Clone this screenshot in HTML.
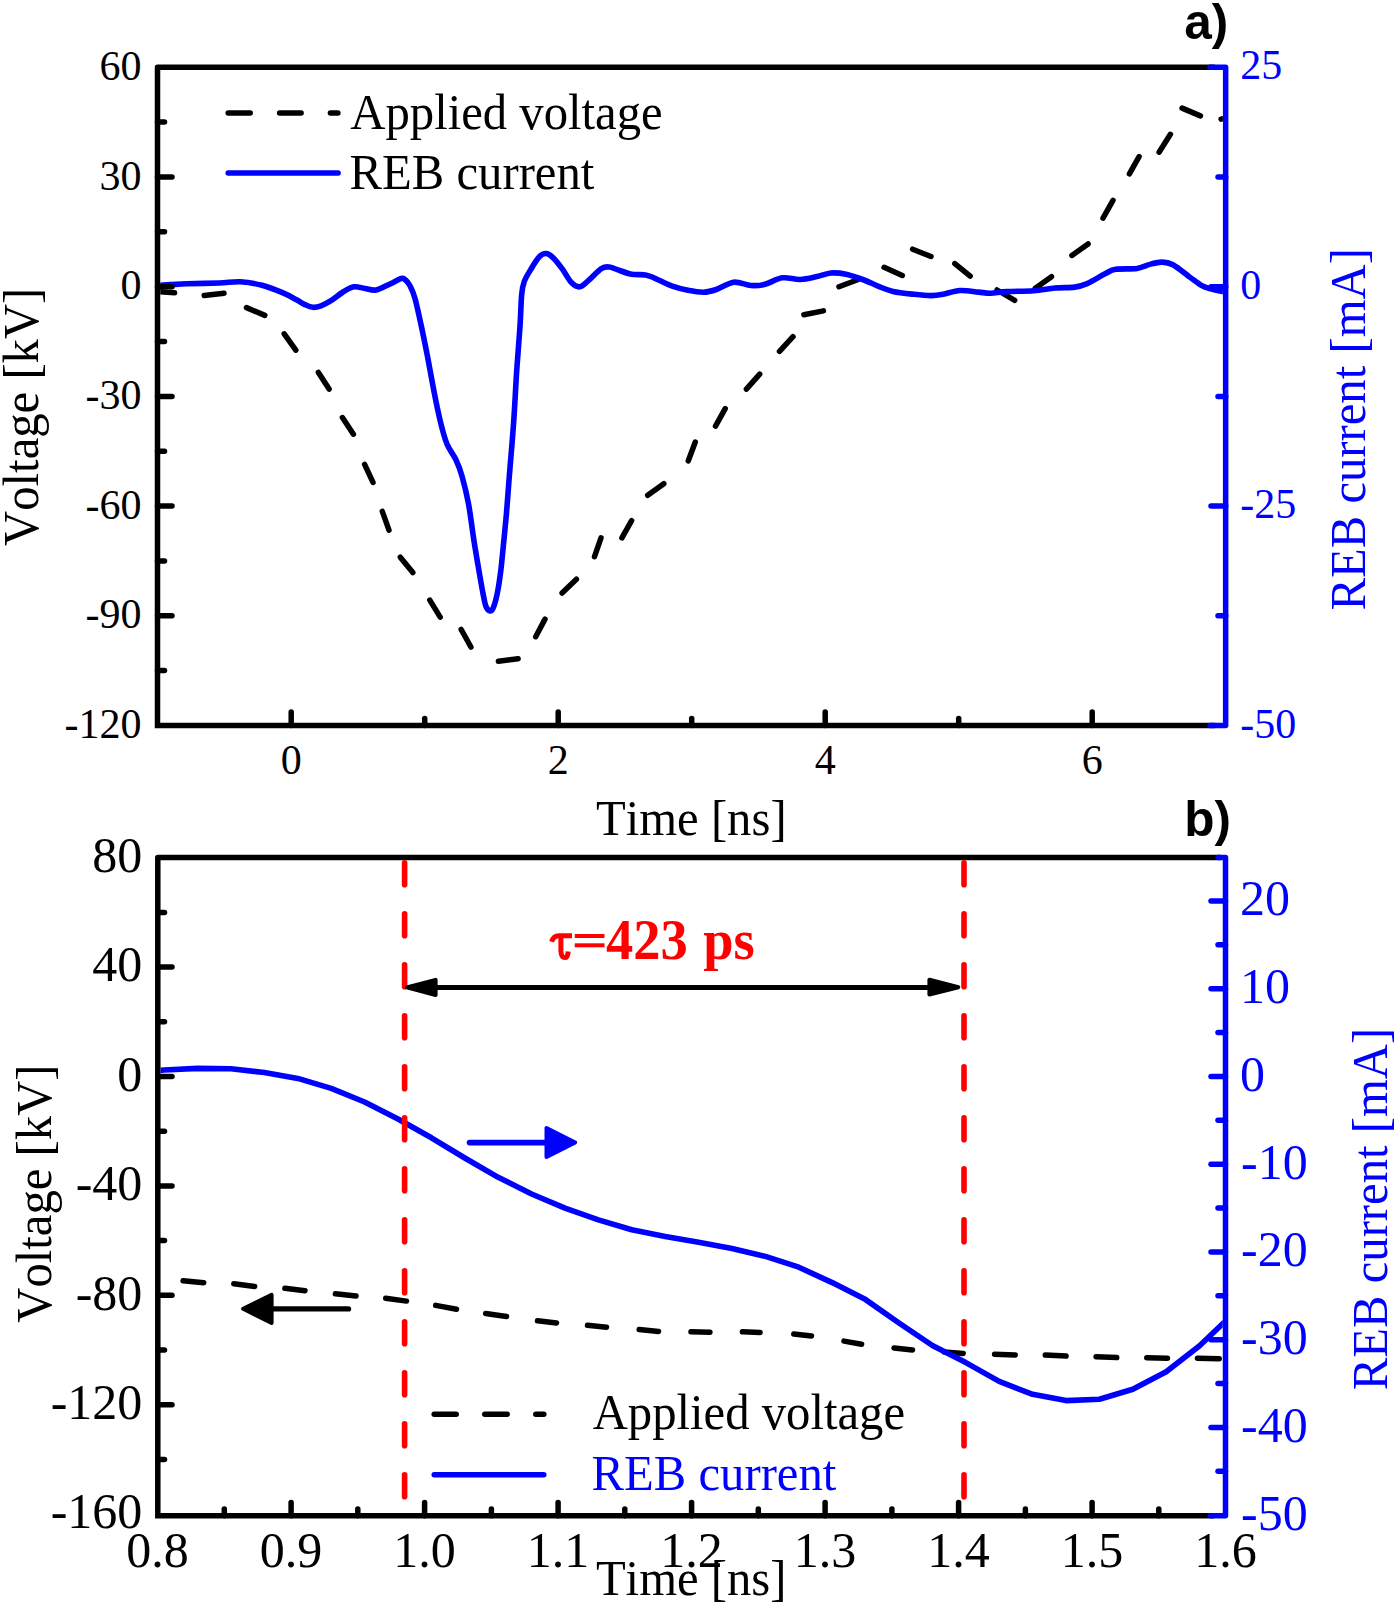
<!DOCTYPE html>
<html><head><meta charset="utf-8"><title>Figure</title>
<style>html,body{margin:0;padding:0;background:#fff;}svg{display:block;}text{font-kerning:none;font-feature-settings:"kern" 0;}</style>
</head><body>
<svg width="1400" height="1609" viewBox="0 0 1400 1609">
<rect width="1400" height="1609" fill="#fff"/>
<clipPath id="ca"><rect x="160.25" y="70.1" width="1062.65" height="652.75"/></clipPath><g clip-path="url(#ca)">
<line x1="160.1" y1="291.7" x2="174.6" y2="292.8" stroke="#000000" stroke-width="5.5" stroke-linecap="round"/>
<line x1="204.2" y1="295.6" x2="224" y2="293.2" stroke="#000000" stroke-width="5.5" stroke-linecap="round"/>
<line x1="246.5" y1="307.6" x2="264.8" y2="315.4" stroke="#000000" stroke-width="5.5" stroke-linecap="round"/>
<line x1="284.2" y1="333.8" x2="295.8" y2="350.2" stroke="#000000" stroke-width="5.5" stroke-linecap="round"/>
<line x1="318.4" y1="372.4" x2="329.1" y2="389.1" stroke="#000000" stroke-width="5.5" stroke-linecap="round"/>
<line x1="342.4" y1="417.6" x2="353.4" y2="434.2" stroke="#000000" stroke-width="5.5" stroke-linecap="round"/>
<line x1="364.6" y1="464.4" x2="373" y2="482.4" stroke="#000000" stroke-width="5.5" stroke-linecap="round"/>
<line x1="382.3" y1="511.4" x2="389" y2="530.1" stroke="#000000" stroke-width="5.5" stroke-linecap="round"/>
<line x1="400.3" y1="557.2" x2="412.8" y2="572.6" stroke="#000000" stroke-width="5.5" stroke-linecap="round"/>
<line x1="429.8" y1="600.1" x2="440.2" y2="617.1" stroke="#000000" stroke-width="5.5" stroke-linecap="round"/>
<line x1="461.2" y1="629.5" x2="470.9" y2="647" stroke="#000000" stroke-width="5.5" stroke-linecap="round"/>
<line x1="498.4" y1="661.3" x2="518.1" y2="658.7" stroke="#000000" stroke-width="5.5" stroke-linecap="round"/>
<line x1="535.7" y1="636.7" x2="545" y2="619.1" stroke="#000000" stroke-width="5.5" stroke-linecap="round"/>
<line x1="562.1" y1="593" x2="576.4" y2="579.2" stroke="#000000" stroke-width="5.5" stroke-linecap="round"/>
<line x1="594.5" y1="556.6" x2="601" y2="537.9" stroke="#000000" stroke-width="5.5" stroke-linecap="round"/>
<line x1="621.9" y1="537.9" x2="631.6" y2="520.6" stroke="#000000" stroke-width="5.5" stroke-linecap="round"/>
<line x1="647.7" y1="495.3" x2="663.8" y2="483.7" stroke="#000000" stroke-width="5.5" stroke-linecap="round"/>
<line x1="688.3" y1="460.8" x2="695.2" y2="442.2" stroke="#000000" stroke-width="5.5" stroke-linecap="round"/>
<line x1="715.5" y1="426.2" x2="725.2" y2="408.7" stroke="#000000" stroke-width="5.5" stroke-linecap="round"/>
<line x1="746.4" y1="389.1" x2="759.7" y2="374.1" stroke="#000000" stroke-width="5.5" stroke-linecap="round"/>
<line x1="779.5" y1="351.3" x2="793" y2="336.7" stroke="#000000" stroke-width="5.5" stroke-linecap="round"/>
<line x1="803.9" y1="314.8" x2="823.4" y2="310.9" stroke="#000000" stroke-width="5.5" stroke-linecap="round"/>
<line x1="839" y1="286.7" x2="857.6" y2="279.7" stroke="#000000" stroke-width="5.5" stroke-linecap="round"/>
<line x1="884.1" y1="267.3" x2="902.3" y2="275.5" stroke="#000000" stroke-width="5.5" stroke-linecap="round"/>
<line x1="912.6" y1="249.2" x2="931" y2="256.5" stroke="#000000" stroke-width="5.5" stroke-linecap="round"/>
<line x1="954.8" y1="263.6" x2="970.2" y2="276.1" stroke="#000000" stroke-width="5.5" stroke-linecap="round"/>
<line x1="997.1" y1="290" x2="1014.7" y2="300.3" stroke="#000000" stroke-width="5.5" stroke-linecap="round"/>
<line x1="1035.3" y1="288.3" x2="1051.5" y2="276.7" stroke="#000000" stroke-width="5.5" stroke-linecap="round"/>
<line x1="1071.9" y1="255.4" x2="1088.1" y2="243.9" stroke="#000000" stroke-width="5.5" stroke-linecap="round"/>
<line x1="1103" y1="218.1" x2="1113" y2="200.4" stroke="#000000" stroke-width="5.5" stroke-linecap="round"/>
<line x1="1129.4" y1="173.9" x2="1139.1" y2="156.6" stroke="#000000" stroke-width="5.5" stroke-linecap="round"/>
<line x1="1159.1" y1="152.2" x2="1170.4" y2="134.3" stroke="#000000" stroke-width="5.5" stroke-linecap="round"/>
<line x1="1182.1" y1="108.1" x2="1200.4" y2="115.9" stroke="#000000" stroke-width="5.5" stroke-linecap="round"/>
<line x1="1221.1" y1="119.1" x2="1221.9" y2="118.9" stroke="#000000" stroke-width="5.5" stroke-linecap="round"/>
<path d="M159,285.3 C160.8,285.2 165.3,284.9 170,284.6 C174.7,284.4 178.8,284.1 187,283.8 C195.2,283.5 210.1,283.3 219,283 C227.9,282.7 233.3,281.4 240.5,281.8 C247.7,282.2 254.8,283.4 262,285.3 C269.2,287.2 277.9,290.8 283.6,293.2 C289.3,295.6 292.4,297.6 296,299.5 C299.6,301.4 302.2,303.3 305,304.6 C307.8,305.9 310.3,307.1 313,307.3 C315.7,307.5 318,306.9 321,305.8 C324,304.7 327.3,303 331,300.7 C334.7,298.4 339.2,294.3 343,292 C346.8,289.7 350.3,287.4 354,286.8 C357.7,286.2 361.3,288 365,288.5 C368.7,289 371.8,290.8 376,290 C380.2,289.2 385.8,285.9 390,284 C394.2,282.1 398.5,279.2 401,278.5 C403.5,277.8 403.5,278.3 405,279.5 C406.5,280.7 408.3,282.5 410,285.7 C411.7,288.9 413.1,291.8 415,298.6 C416.9,305.4 419.2,316.4 421.4,326.4 C423.5,336.4 425.8,347.5 427.9,358.6 C430,369.7 432.2,382.2 434.3,392.9 C436.4,403.6 438.6,414.2 440.7,422.8 C442.8,431.4 444.6,438.2 447.1,444.3 C449.6,450.4 453.2,454 455.7,459.3 C458.2,464.6 460,468.9 462.1,476.4 C464.2,483.9 466.6,493.2 468.6,504.3 C470.6,515.4 472.6,532.2 474.3,542.9 C476,553.6 477.2,560.3 478.6,568.6 C480,576.9 481.7,586.7 482.9,592.9 C484.1,599.1 484.6,602.7 485.7,605.7 C486.8,608.7 488.1,610.2 489.3,610.7 C490.5,611.2 491.6,611.3 492.9,608.6 C494.2,605.9 495.8,600.5 497.1,594.3 C498.4,588.1 499.6,580 500.7,571.4 C501.8,562.8 502.7,552.4 503.6,542.9 C504.6,533.4 505.4,525.4 506.4,514.3 C507.3,503.2 508.1,491.6 509.3,476.4 C510.5,461.1 512.4,440.6 513.6,422.8 C514.9,405 515.7,385.4 516.8,369.3 C517.9,353.2 519.2,338.9 520,326.4 C520.8,313.9 521,301.8 521.7,294.3 C522.4,286.8 522.8,285.5 524.3,281.4 C525.8,277.3 528.2,273.7 530.7,269.6 C533.2,265.5 536.6,259.5 539.3,256.8 C542,254.1 544.3,253.2 546.8,253.6 C549.3,253.9 551.6,256.2 554.3,258.9 C557,261.6 559.9,265.7 562.8,269.6 C565.6,273.5 568.5,279.6 571.4,282.5 C574.3,285.4 577.1,287.2 580,286.8 C582.9,286.4 585,283.4 588.6,280.4 C592.2,277.4 597.9,270.8 601.4,268.6 C604.9,266.4 606.8,266.8 609.4,267 C612,267.2 613.6,268.5 617.3,269.7 C621,270.9 626.7,273.3 631.4,274.2 C636.1,275.1 641.7,274.2 645.6,274.9 C649.5,275.6 650.5,276.4 655,278.3 C659.5,280.2 666.8,284.2 672.3,286.2 C677.8,288.2 682.8,289.3 688,290.3 C693.2,291.3 699,292.3 703.7,292.2 C708.4,292.1 711.3,291.2 716.3,289.5 C721.3,287.8 727.9,282.9 733.6,282.2 C739.4,281.5 745.6,285.1 750.8,285.5 C756,285.9 759.8,285.6 765,284.3 C770.2,283 776.5,278.6 782.3,277.8 C788.1,277 794.2,279.7 800,279.5 C805.8,279.3 811.8,277.7 817,276.6 C822.2,275.5 826.2,273.4 831,273 C835.8,272.6 840.5,273.1 846,274.3 C851.5,275.5 858.6,278 864,280 C869.4,282 873.8,284.5 878.6,286.4 C883.4,288.3 887.1,290.1 893,291.4 C898.9,292.7 907.7,293.6 914,294.3 C920.3,295 926.2,295.6 931,295.6 C935.8,295.6 938.2,295.2 943,294.3 C947.8,293.4 954.1,290.9 960,290.5 C965.9,290.1 973.5,291.7 978.6,292.1 C983.7,292.6 986,293.3 990.7,293.2 C995.4,293.1 999.6,292 1006.8,291.6 C1013.9,291.2 1025.6,291.3 1033.6,290.7 C1041.6,290.1 1048.2,288.6 1055,288 C1061.8,287.4 1069.2,287.8 1074.6,287.1 C1079.9,286.4 1082,285.8 1087.1,283.6 C1092.2,281.4 1100.2,276.2 1105,273.8 C1109.8,271.4 1110.4,270.2 1115.7,269.3 C1121,268.4 1131.1,269.3 1137.1,268.4 C1143,267.5 1147.2,264.9 1151.4,263.9 C1155.6,262.8 1158.5,262 1162.1,262.1 C1165.7,262.2 1168.4,262.4 1172.9,264.8 C1177.4,267.2 1184.2,273 1188.9,276.4 C1193.7,279.8 1197.8,283.3 1201.4,285.4 C1205,287.5 1206.8,287.9 1210.4,288.9 C1214,289.9 1220.9,291.2 1223,291.6" fill="none" stroke="#0000ff" stroke-width="5.6" stroke-linejoin="round" stroke-linecap="round"/>
</g>
<path d="M157.5,725.6 L157.5,67.35 L1212,67.35 M157.5,725.6 L1212,725.6" fill="none" stroke="#000" stroke-width="5.5" stroke-linejoin="round" stroke-linecap="square"/>
<line x1="157.5" y1="177" x2="172" y2="177" stroke="#000000" stroke-width="5.5" stroke-linecap="round"/>
<line x1="157.5" y1="286.7" x2="172" y2="286.7" stroke="#000000" stroke-width="5.5" stroke-linecap="round"/>
<line x1="157.5" y1="396.4" x2="172" y2="396.4" stroke="#000000" stroke-width="5.5" stroke-linecap="round"/>
<line x1="157.5" y1="506.1" x2="172" y2="506.1" stroke="#000000" stroke-width="5.5" stroke-linecap="round"/>
<line x1="157.5" y1="615.8" x2="172" y2="615.8" stroke="#000000" stroke-width="5.5" stroke-linecap="round"/>
<line x1="157.5" y1="122.1" x2="164.5" y2="122.1" stroke="#000000" stroke-width="5.5" stroke-linecap="round"/>
<line x1="157.5" y1="231.8" x2="164.5" y2="231.8" stroke="#000000" stroke-width="5.5" stroke-linecap="round"/>
<line x1="157.5" y1="341.6" x2="164.5" y2="341.6" stroke="#000000" stroke-width="5.5" stroke-linecap="round"/>
<line x1="157.5" y1="451.2" x2="164.5" y2="451.2" stroke="#000000" stroke-width="5.5" stroke-linecap="round"/>
<line x1="157.5" y1="561" x2="164.5" y2="561" stroke="#000000" stroke-width="5.5" stroke-linecap="round"/>
<line x1="157.5" y1="670.6" x2="164.5" y2="670.6" stroke="#000000" stroke-width="5.5" stroke-linecap="round"/>
<line x1="291.2" y1="725.6" x2="291.2" y2="712" stroke="#000000" stroke-width="5.5" stroke-linecap="round"/>
<line x1="558.2" y1="725.6" x2="558.2" y2="712" stroke="#000000" stroke-width="5.5" stroke-linecap="round"/>
<line x1="825.2" y1="725.6" x2="825.2" y2="712" stroke="#000000" stroke-width="5.5" stroke-linecap="round"/>
<line x1="1092.2" y1="725.6" x2="1092.2" y2="712" stroke="#000000" stroke-width="5.5" stroke-linecap="round"/>
<line x1="424.7" y1="725.6" x2="424.7" y2="718.5" stroke="#000000" stroke-width="5.5" stroke-linecap="round"/>
<line x1="691.7" y1="725.6" x2="691.7" y2="718.5" stroke="#000000" stroke-width="5.5" stroke-linecap="round"/>
<line x1="958.7" y1="725.6" x2="958.7" y2="718.5" stroke="#000000" stroke-width="5.5" stroke-linecap="round"/>
<text x="141.6" y="79.8" font-family="&quot;Liberation Serif&quot;, serif" font-size="42" font-weight="normal" fill="#000000" text-anchor="end" >60</text>
<text x="141.6" y="189.5" font-family="&quot;Liberation Serif&quot;, serif" font-size="42" font-weight="normal" fill="#000000" text-anchor="end" >30</text>
<text x="141.6" y="299.2" font-family="&quot;Liberation Serif&quot;, serif" font-size="42" font-weight="normal" fill="#000000" text-anchor="end" >0</text>
<text x="141.6" y="408.9" font-family="&quot;Liberation Serif&quot;, serif" font-size="42" font-weight="normal" fill="#000000" text-anchor="end" >-30</text>
<text x="141.6" y="518.6" font-family="&quot;Liberation Serif&quot;, serif" font-size="42" font-weight="normal" fill="#000000" text-anchor="end" >-60</text>
<text x="141.6" y="628.3" font-family="&quot;Liberation Serif&quot;, serif" font-size="42" font-weight="normal" fill="#000000" text-anchor="end" >-90</text>
<text x="141.6" y="738" font-family="&quot;Liberation Serif&quot;, serif" font-size="42" font-weight="normal" fill="#000000" text-anchor="end" >-120</text>
<text x="291.2" y="774.2" font-family="&quot;Liberation Serif&quot;, serif" font-size="42" font-weight="normal" fill="#000000" text-anchor="middle" >0</text>
<text x="558.2" y="774.2" font-family="&quot;Liberation Serif&quot;, serif" font-size="42" font-weight="normal" fill="#000000" text-anchor="middle" >2</text>
<text x="825.2" y="774.2" font-family="&quot;Liberation Serif&quot;, serif" font-size="42" font-weight="normal" fill="#000000" text-anchor="middle" >4</text>
<text x="1092.2" y="774.2" font-family="&quot;Liberation Serif&quot;, serif" font-size="42" font-weight="normal" fill="#000000" text-anchor="middle" >6</text>
<text transform="translate(691.3,834.7) scale(1,1.035)" x="0" y="0" font-family="&quot;Liberation Serif&quot;, serif" font-size="48.7" fill="#000000" text-anchor="middle">Time [ns]</text>
<text transform="translate(38.4,416.8) rotate(-90) scale(1,1.035)" x="0" y="0" font-family="&quot;Liberation Serif&quot;, serif" font-size="48.7" fill="#000000" text-anchor="middle">Voltage [kV]</text>
<path d="M1210,67.35 L1225.65,67.35 L1225.65,725.6 L1210,725.6" fill="none" stroke="#0000ff" stroke-width="5.5" stroke-linejoin="round" stroke-linecap="round"/>
<line x1="1225.7" y1="286.7" x2="1211" y2="286.7" stroke="#0000ff" stroke-width="5.5" stroke-linecap="round"/>
<line x1="1225.7" y1="506.1" x2="1211" y2="506.1" stroke="#0000ff" stroke-width="5.5" stroke-linecap="round"/>
<line x1="1225.7" y1="177" x2="1218" y2="177" stroke="#0000ff" stroke-width="5.5" stroke-linecap="round"/>
<line x1="1225.7" y1="396.4" x2="1218" y2="396.4" stroke="#0000ff" stroke-width="5.5" stroke-linecap="round"/>
<line x1="1225.7" y1="615.8" x2="1218" y2="615.8" stroke="#0000ff" stroke-width="5.5" stroke-linecap="round"/>
<text x="1240.3" y="79.3" font-family="&quot;Liberation Serif&quot;, serif" font-size="42" font-weight="normal" fill="#0000ff" text-anchor="start" >25</text>
<text x="1240.3" y="298.7" font-family="&quot;Liberation Serif&quot;, serif" font-size="42" font-weight="normal" fill="#0000ff" text-anchor="start" >0</text>
<text x="1240.3" y="518.1" font-family="&quot;Liberation Serif&quot;, serif" font-size="42" font-weight="normal" fill="#0000ff" text-anchor="start" >-25</text>
<text x="1240.3" y="737.5" font-family="&quot;Liberation Serif&quot;, serif" font-size="42" font-weight="normal" fill="#0000ff" text-anchor="start" >-50</text>
<text transform="translate(1365.2,429.3) rotate(-90) scale(1,1.035)" x="0" y="0" font-family="&quot;Liberation Serif&quot;, serif" font-size="48.7" fill="#0000ff" text-anchor="middle">REB current [mA]</text>
<line x1="228.2" y1="113" x2="250.2" y2="113" stroke="#000000" stroke-width="5.5" stroke-linecap="round"/>
<line x1="279.6" y1="113" x2="301.1" y2="113" stroke="#000000" stroke-width="5.5" stroke-linecap="round"/>
<line x1="330.4" y1="113" x2="337.9" y2="113" stroke="#000000" stroke-width="5.5" stroke-linecap="round"/>
<line x1="228.2" y1="173" x2="338.1" y2="173" stroke="#0000ff" stroke-width="5.5" stroke-linecap="round"/>
<text transform="translate(350.3,128.9) scale(1,1.035)" x="0" y="0" font-family="&quot;Liberation Serif&quot;, serif" font-size="48.7" fill="#000000" text-anchor="start">Applied voltage</text>
<text transform="translate(349.6,189.4) scale(1,1.035)" x="0" y="0" font-family="&quot;Liberation Serif&quot;, serif" font-size="48.7" fill="#000000" text-anchor="start">REB current</text>
<text x="1184.2" y="39" font-family="&quot;Liberation Sans&quot;, sans-serif" font-size="49.5" font-weight="bold" fill="#000000" text-anchor="start" >a)</text>
<line x1="183.1" y1="1280.7" x2="203.7" y2="1282.8" stroke="#000000" stroke-width="5.5" stroke-linecap="round"/>
<line x1="233.8" y1="1283.8" x2="254.7" y2="1286.5" stroke="#000000" stroke-width="5.5" stroke-linecap="round"/>
<line x1="284.9" y1="1288.3" x2="305" y2="1290.7" stroke="#000000" stroke-width="5.5" stroke-linecap="round"/>
<line x1="335.4" y1="1293.7" x2="356" y2="1296.1" stroke="#000000" stroke-width="5.5" stroke-linecap="round"/>
<line x1="385.7" y1="1298.2" x2="406.5" y2="1301.1" stroke="#000000" stroke-width="5.5" stroke-linecap="round"/>
<line x1="435.7" y1="1305.4" x2="456.5" y2="1309.2" stroke="#000000" stroke-width="5.5" stroke-linecap="round"/>
<line x1="485.7" y1="1313.5" x2="506.5" y2="1316.5" stroke="#000000" stroke-width="5.5" stroke-linecap="round"/>
<line x1="537.5" y1="1320.7" x2="556.5" y2="1322.9" stroke="#000000" stroke-width="5.5" stroke-linecap="round"/>
<line x1="587.5" y1="1325.2" x2="606.5" y2="1327.3" stroke="#000000" stroke-width="5.5" stroke-linecap="round"/>
<line x1="639.2" y1="1329.5" x2="658.5" y2="1331.5" stroke="#000000" stroke-width="5.5" stroke-linecap="round"/>
<line x1="691" y1="1331.7" x2="709.9" y2="1332.2" stroke="#000000" stroke-width="5.5" stroke-linecap="round"/>
<line x1="742.4" y1="1331.8" x2="760" y2="1332.4" stroke="#000000" stroke-width="5.5" stroke-linecap="round"/>
<line x1="793.8" y1="1334" x2="811.5" y2="1335.9" stroke="#000000" stroke-width="5.5" stroke-linecap="round"/>
<line x1="844" y1="1341.1" x2="861.6" y2="1344.2" stroke="#000000" stroke-width="5.5" stroke-linecap="round"/>
<line x1="894.1" y1="1347.9" x2="912.5" y2="1350" stroke="#000000" stroke-width="5.5" stroke-linecap="round"/>
<line x1="944.2" y1="1352" x2="963.2" y2="1353.4" stroke="#000000" stroke-width="5.5" stroke-linecap="round"/>
<line x1="994.6" y1="1354.2" x2="1015.2" y2="1354.9" stroke="#000000" stroke-width="5.5" stroke-linecap="round"/>
<line x1="1045.3" y1="1355.1" x2="1066" y2="1356.1" stroke="#000000" stroke-width="5.5" stroke-linecap="round"/>
<line x1="1096.1" y1="1356.7" x2="1116.7" y2="1357.6" stroke="#000000" stroke-width="5.5" stroke-linecap="round"/>
<line x1="1146.8" y1="1357.8" x2="1167.4" y2="1358.2" stroke="#000000" stroke-width="5.5" stroke-linecap="round"/>
<line x1="1197.5" y1="1358.3" x2="1219.2" y2="1358.7" stroke="#000000" stroke-width="5.5" stroke-linecap="round"/>
<clipPath id="cb"><rect x="160.55" y="860.15" width="1062.2" height="652.8000000000001"/></clipPath><g clip-path="url(#cb)">
<polyline points="158.5,1070.5 164.2,1070 197.6,1068.4 231,1068.8 264.4,1072.5 297.8,1078.4 331.2,1088.4 364.6,1102 398,1119 431.4,1137.8 464.8,1158 498.2,1177.3 531.6,1194 565,1208.2 598.4,1219.9 631.8,1229.8 665.2,1236.6 698.6,1242.2 732,1248.5 765.4,1256.4 798.8,1267.2 832.2,1282.6 865.6,1299.6 899,1323 932.4,1345.5 965.8,1362.6 999.2,1381.4 1032.6,1394.3 1066,1400.6 1099.4,1399.2 1132.8,1389.2 1166.2,1371.7 1199.6,1345.8 1224.5,1322" fill="none" stroke="#0000ff" stroke-width="5.6" stroke-linejoin="round" stroke-linecap="round"/>
</g>
<path d="M157.8,1515.7 L157.8,857.4 L1218,857.4 M157.8,1515.7 L1211,1515.7" fill="none" stroke="#000" stroke-width="5.5" stroke-linejoin="round" stroke-linecap="square"/>
<line x1="157.8" y1="967.1" x2="172" y2="967.1" stroke="#000000" stroke-width="5.5" stroke-linecap="round"/>
<line x1="157.8" y1="1076.5" x2="172" y2="1076.5" stroke="#000000" stroke-width="5.5" stroke-linecap="round"/>
<line x1="157.8" y1="1185.9" x2="172" y2="1185.9" stroke="#000000" stroke-width="5.5" stroke-linecap="round"/>
<line x1="157.8" y1="1295.3" x2="172" y2="1295.3" stroke="#000000" stroke-width="5.5" stroke-linecap="round"/>
<line x1="157.8" y1="1404.7" x2="172" y2="1404.7" stroke="#000000" stroke-width="5.5" stroke-linecap="round"/>
<line x1="157.8" y1="912.4" x2="164.5" y2="912.4" stroke="#000000" stroke-width="5.5" stroke-linecap="round"/>
<line x1="157.8" y1="1021.8" x2="164.5" y2="1021.8" stroke="#000000" stroke-width="5.5" stroke-linecap="round"/>
<line x1="157.8" y1="1131.2" x2="164.5" y2="1131.2" stroke="#000000" stroke-width="5.5" stroke-linecap="round"/>
<line x1="157.8" y1="1240.6" x2="164.5" y2="1240.6" stroke="#000000" stroke-width="5.5" stroke-linecap="round"/>
<line x1="157.8" y1="1350" x2="164.5" y2="1350" stroke="#000000" stroke-width="5.5" stroke-linecap="round"/>
<line x1="157.8" y1="1459.4" x2="164.5" y2="1459.4" stroke="#000000" stroke-width="5.5" stroke-linecap="round"/>
<line x1="291.1" y1="1515.7" x2="291.1" y2="1502.5" stroke="#000000" stroke-width="5.5" stroke-linecap="round"/>
<line x1="424.6" y1="1515.7" x2="424.6" y2="1502.5" stroke="#000000" stroke-width="5.5" stroke-linecap="round"/>
<line x1="558.1" y1="1515.7" x2="558.1" y2="1502.5" stroke="#000000" stroke-width="5.5" stroke-linecap="round"/>
<line x1="691.6" y1="1515.7" x2="691.6" y2="1502.5" stroke="#000000" stroke-width="5.5" stroke-linecap="round"/>
<line x1="825.1" y1="1515.7" x2="825.1" y2="1502.5" stroke="#000000" stroke-width="5.5" stroke-linecap="round"/>
<line x1="958.6" y1="1515.7" x2="958.6" y2="1502.5" stroke="#000000" stroke-width="5.5" stroke-linecap="round"/>
<line x1="1092.1" y1="1515.7" x2="1092.1" y2="1502.5" stroke="#000000" stroke-width="5.5" stroke-linecap="round"/>
<line x1="224.3" y1="1515.7" x2="224.3" y2="1509" stroke="#000000" stroke-width="5.5" stroke-linecap="round"/>
<line x1="357.8" y1="1515.7" x2="357.8" y2="1509" stroke="#000000" stroke-width="5.5" stroke-linecap="round"/>
<line x1="491.4" y1="1515.7" x2="491.4" y2="1509" stroke="#000000" stroke-width="5.5" stroke-linecap="round"/>
<line x1="624.8" y1="1515.7" x2="624.8" y2="1509" stroke="#000000" stroke-width="5.5" stroke-linecap="round"/>
<line x1="758.3" y1="1515.7" x2="758.3" y2="1509" stroke="#000000" stroke-width="5.5" stroke-linecap="round"/>
<line x1="891.9" y1="1515.7" x2="891.9" y2="1509" stroke="#000000" stroke-width="5.5" stroke-linecap="round"/>
<line x1="1025.4" y1="1515.7" x2="1025.4" y2="1509" stroke="#000000" stroke-width="5.5" stroke-linecap="round"/>
<line x1="1158.8" y1="1515.7" x2="1158.8" y2="1509" stroke="#000000" stroke-width="5.5" stroke-linecap="round"/>
<text x="142.3" y="872" font-family="&quot;Liberation Serif&quot;, serif" font-size="50" font-weight="normal" fill="#000000" text-anchor="end" >80</text>
<text x="142.3" y="981.4" font-family="&quot;Liberation Serif&quot;, serif" font-size="50" font-weight="normal" fill="#000000" text-anchor="end" >40</text>
<text x="142.3" y="1090.8" font-family="&quot;Liberation Serif&quot;, serif" font-size="50" font-weight="normal" fill="#000000" text-anchor="end" >0</text>
<text x="142.3" y="1200.2" font-family="&quot;Liberation Serif&quot;, serif" font-size="50" font-weight="normal" fill="#000000" text-anchor="end" >-40</text>
<text x="142.3" y="1309.6" font-family="&quot;Liberation Serif&quot;, serif" font-size="50" font-weight="normal" fill="#000000" text-anchor="end" >-80</text>
<text x="142.3" y="1419" font-family="&quot;Liberation Serif&quot;, serif" font-size="50" font-weight="normal" fill="#000000" text-anchor="end" >-120</text>
<text x="142.3" y="1528.4" font-family="&quot;Liberation Serif&quot;, serif" font-size="50" font-weight="normal" fill="#000000" text-anchor="end" >-160</text>
<text x="157.6" y="1567.3" font-family="&quot;Liberation Serif&quot;, serif" font-size="50" font-weight="normal" fill="#000000" text-anchor="middle" >0.8</text>
<text x="291.1" y="1567.3" font-family="&quot;Liberation Serif&quot;, serif" font-size="50" font-weight="normal" fill="#000000" text-anchor="middle" >0.9</text>
<text x="424.6" y="1567.3" font-family="&quot;Liberation Serif&quot;, serif" font-size="50" font-weight="normal" fill="#000000" text-anchor="middle" >1.0</text>
<text x="558.1" y="1567.3" font-family="&quot;Liberation Serif&quot;, serif" font-size="50" font-weight="normal" fill="#000000" text-anchor="middle" >1.1</text>
<text x="691.6" y="1567.3" font-family="&quot;Liberation Serif&quot;, serif" font-size="50" font-weight="normal" fill="#000000" text-anchor="middle" >1.2</text>
<text x="825.1" y="1567.3" font-family="&quot;Liberation Serif&quot;, serif" font-size="50" font-weight="normal" fill="#000000" text-anchor="middle" >1.3</text>
<text x="958.6" y="1567.3" font-family="&quot;Liberation Serif&quot;, serif" font-size="50" font-weight="normal" fill="#000000" text-anchor="middle" >1.4</text>
<text x="1092.1" y="1567.3" font-family="&quot;Liberation Serif&quot;, serif" font-size="50" font-weight="normal" fill="#000000" text-anchor="middle" >1.5</text>
<text x="1225.6" y="1567.3" font-family="&quot;Liberation Serif&quot;, serif" font-size="50" font-weight="normal" fill="#000000" text-anchor="middle" >1.6</text>
<text transform="translate(691.2,1595.1) scale(1,1.035)" x="0" y="0" font-family="&quot;Liberation Serif&quot;, serif" font-size="48.7" fill="#000000" text-anchor="middle">Time [ns]</text>
<text transform="translate(51.3,1193.6) rotate(-90) scale(1,1.035)" x="0" y="0" font-family="&quot;Liberation Serif&quot;, serif" font-size="48.7" fill="#000000" text-anchor="middle">Voltage [kV]</text>
<line x1="404.6" y1="862.8" x2="404.6" y2="884.8" stroke="#ff0000" stroke-width="5.6" stroke-linecap="round"/>
<line x1="404.6" y1="913.8" x2="404.6" y2="935.8" stroke="#ff0000" stroke-width="5.6" stroke-linecap="round"/>
<line x1="404.6" y1="964.8" x2="404.6" y2="986.8" stroke="#ff0000" stroke-width="5.6" stroke-linecap="round"/>
<line x1="404.6" y1="1015.8" x2="404.6" y2="1037.8" stroke="#ff0000" stroke-width="5.6" stroke-linecap="round"/>
<line x1="404.6" y1="1066.8" x2="404.6" y2="1088.8" stroke="#ff0000" stroke-width="5.6" stroke-linecap="round"/>
<line x1="404.6" y1="1117.8" x2="404.6" y2="1139.8" stroke="#ff0000" stroke-width="5.6" stroke-linecap="round"/>
<line x1="404.6" y1="1168.8" x2="404.6" y2="1190.8" stroke="#ff0000" stroke-width="5.6" stroke-linecap="round"/>
<line x1="404.6" y1="1219.8" x2="404.6" y2="1241.8" stroke="#ff0000" stroke-width="5.6" stroke-linecap="round"/>
<line x1="404.6" y1="1270.8" x2="404.6" y2="1292.8" stroke="#ff0000" stroke-width="5.6" stroke-linecap="round"/>
<line x1="404.6" y1="1321.8" x2="404.6" y2="1343.8" stroke="#ff0000" stroke-width="5.6" stroke-linecap="round"/>
<line x1="404.6" y1="1372.8" x2="404.6" y2="1394.8" stroke="#ff0000" stroke-width="5.6" stroke-linecap="round"/>
<line x1="404.6" y1="1423.8" x2="404.6" y2="1445.8" stroke="#ff0000" stroke-width="5.6" stroke-linecap="round"/>
<line x1="404.6" y1="1474.8" x2="404.6" y2="1496.8" stroke="#ff0000" stroke-width="5.6" stroke-linecap="round"/>
<line x1="964" y1="862.8" x2="964" y2="884.8" stroke="#ff0000" stroke-width="5.6" stroke-linecap="round"/>
<line x1="964" y1="913.8" x2="964" y2="935.8" stroke="#ff0000" stroke-width="5.6" stroke-linecap="round"/>
<line x1="964" y1="964.8" x2="964" y2="986.8" stroke="#ff0000" stroke-width="5.6" stroke-linecap="round"/>
<line x1="964" y1="1015.8" x2="964" y2="1037.8" stroke="#ff0000" stroke-width="5.6" stroke-linecap="round"/>
<line x1="964" y1="1066.8" x2="964" y2="1088.8" stroke="#ff0000" stroke-width="5.6" stroke-linecap="round"/>
<line x1="964" y1="1117.8" x2="964" y2="1139.8" stroke="#ff0000" stroke-width="5.6" stroke-linecap="round"/>
<line x1="964" y1="1168.8" x2="964" y2="1190.8" stroke="#ff0000" stroke-width="5.6" stroke-linecap="round"/>
<line x1="964" y1="1219.8" x2="964" y2="1241.8" stroke="#ff0000" stroke-width="5.6" stroke-linecap="round"/>
<line x1="964" y1="1270.8" x2="964" y2="1292.8" stroke="#ff0000" stroke-width="5.6" stroke-linecap="round"/>
<line x1="964" y1="1321.8" x2="964" y2="1343.8" stroke="#ff0000" stroke-width="5.6" stroke-linecap="round"/>
<line x1="964" y1="1372.8" x2="964" y2="1394.8" stroke="#ff0000" stroke-width="5.6" stroke-linecap="round"/>
<line x1="964" y1="1423.8" x2="964" y2="1445.8" stroke="#ff0000" stroke-width="5.6" stroke-linecap="round"/>
<line x1="964" y1="1474.8" x2="964" y2="1496.8" stroke="#ff0000" stroke-width="5.6" stroke-linecap="round"/>
<path d="M1218,857.4 L1225.5,857.4 L1225.5,1515.7 L1210.5,1515.7" fill="none" stroke="#0000ff" stroke-width="5.5" stroke-linejoin="round" stroke-linecap="round"/>
<line x1="1225.5" y1="900.9" x2="1211" y2="900.9" stroke="#0000ff" stroke-width="5.5" stroke-linecap="round"/>
<line x1="1225.5" y1="988.7" x2="1211" y2="988.7" stroke="#0000ff" stroke-width="5.5" stroke-linecap="round"/>
<line x1="1225.5" y1="1076.4" x2="1211" y2="1076.4" stroke="#0000ff" stroke-width="5.5" stroke-linecap="round"/>
<line x1="1225.5" y1="1164.2" x2="1211" y2="1164.2" stroke="#0000ff" stroke-width="5.5" stroke-linecap="round"/>
<line x1="1225.5" y1="1251.9" x2="1211" y2="1251.9" stroke="#0000ff" stroke-width="5.5" stroke-linecap="round"/>
<line x1="1225.5" y1="1339.7" x2="1211" y2="1339.7" stroke="#0000ff" stroke-width="5.5" stroke-linecap="round"/>
<line x1="1225.5" y1="1427.4" x2="1211" y2="1427.4" stroke="#0000ff" stroke-width="5.5" stroke-linecap="round"/>
<line x1="1225.5" y1="944.8" x2="1218" y2="944.8" stroke="#0000ff" stroke-width="5.5" stroke-linecap="round"/>
<line x1="1225.5" y1="1032.5" x2="1218" y2="1032.5" stroke="#0000ff" stroke-width="5.5" stroke-linecap="round"/>
<line x1="1225.5" y1="1120.3" x2="1218" y2="1120.3" stroke="#0000ff" stroke-width="5.5" stroke-linecap="round"/>
<line x1="1225.5" y1="1208" x2="1218" y2="1208" stroke="#0000ff" stroke-width="5.5" stroke-linecap="round"/>
<line x1="1225.5" y1="1295.8" x2="1218" y2="1295.8" stroke="#0000ff" stroke-width="5.5" stroke-linecap="round"/>
<line x1="1225.5" y1="1383.5" x2="1218" y2="1383.5" stroke="#0000ff" stroke-width="5.5" stroke-linecap="round"/>
<line x1="1225.5" y1="1471.3" x2="1218" y2="1471.3" stroke="#0000ff" stroke-width="5.5" stroke-linecap="round"/>
<text x="1240" y="915.2" font-family="&quot;Liberation Serif&quot;, serif" font-size="50" font-weight="normal" fill="#0000ff" text-anchor="start" >20</text>
<text x="1240" y="1003" font-family="&quot;Liberation Serif&quot;, serif" font-size="50" font-weight="normal" fill="#0000ff" text-anchor="start" >10</text>
<text x="1240" y="1090.7" font-family="&quot;Liberation Serif&quot;, serif" font-size="50" font-weight="normal" fill="#0000ff" text-anchor="start" >0</text>
<text x="1241" y="1178.5" font-family="&quot;Liberation Serif&quot;, serif" font-size="50" font-weight="normal" fill="#0000ff" text-anchor="start" >-10</text>
<text x="1241" y="1266.2" font-family="&quot;Liberation Serif&quot;, serif" font-size="50" font-weight="normal" fill="#0000ff" text-anchor="start" >-20</text>
<text x="1241" y="1354" font-family="&quot;Liberation Serif&quot;, serif" font-size="50" font-weight="normal" fill="#0000ff" text-anchor="start" >-30</text>
<text x="1241" y="1441.7" font-family="&quot;Liberation Serif&quot;, serif" font-size="50" font-weight="normal" fill="#0000ff" text-anchor="start" >-40</text>
<text x="1241" y="1529.5" font-family="&quot;Liberation Serif&quot;, serif" font-size="50" font-weight="normal" fill="#0000ff" text-anchor="start" >-50</text>
<text transform="translate(1387,1209) rotate(-90) scale(1,1.035)" x="0" y="0" font-family="&quot;Liberation Serif&quot;, serif" font-size="48.7" fill="#0000ff" text-anchor="middle">REB current [mA]</text>
<line x1="425" y1="987.5" x2="940" y2="987.5" stroke="#000000" stroke-width="5.2" stroke-linecap="butt"/>
<path d="M406.8,987.4 L435.6,979.9 L435.6,995 Z" fill="#000" stroke="#000" stroke-width="4" stroke-linejoin="round"/>
<path d="M958.3,987.3 L929.4,979.7 L929.4,994.6 Z" fill="#000" stroke="#000" stroke-width="4" stroke-linejoin="round"/>
<path d="M551.6,941.8 Q553.5,935.6 559,935.7 L572,935.7" fill="none" stroke="#ff0000" stroke-width="5" stroke-linecap="butt"/>
<path d="M560.9,936 L560.9,951 Q561.2,957.6 565,957.6 Q567.8,957.6 568.2,951.5" fill="none" stroke="#ff0000" stroke-width="5" stroke-linecap="butt"/>
<rect x="574.75" y="934" width="29.75" height="4" fill="#ff0000"/>
<rect x="574.75" y="943.3" width="29.75" height="4" fill="#ff0000"/>
<g transform="translate(0,959.4) scale(1,1.05)"><text x="606.05" y="0" font-family="&quot;Liberation Serif&quot;, serif" font-size="54.5" font-weight="bold" fill="#ff0000">423</text><text x="703.3" y="0" font-family="&quot;Liberation Serif&quot;, serif" font-size="54.5" font-weight="bold" fill="#ff0000">ps</text></g>
<line x1="469.5" y1="1142.6" x2="548" y2="1142.6" stroke="#0000ff" stroke-width="5.6" stroke-linecap="round"/>
<path d="M575.2,1142.5 L546.5,1128 L546.5,1157 Z" fill="#0000ff" stroke="#0000ff" stroke-width="4" stroke-linejoin="round"/>
<line x1="268" y1="1308.9" x2="348.5" y2="1308.9" stroke="#000000" stroke-width="5.4" stroke-linecap="round"/>
<path d="M243.2,1308.8 L271.6,1294.8 L271.6,1323 Z" fill="#000" stroke="#000" stroke-width="4" stroke-linejoin="round"/>
<line x1="434.2" y1="1414.3" x2="456.2" y2="1414.3" stroke="#000000" stroke-width="5.5" stroke-linecap="round"/>
<line x1="484.8" y1="1414.3" x2="507.2" y2="1414.3" stroke="#000000" stroke-width="5.5" stroke-linecap="round"/>
<line x1="535.8" y1="1414.3" x2="543.8" y2="1414.3" stroke="#000000" stroke-width="5.5" stroke-linecap="round"/>
<line x1="434.2" y1="1474.8" x2="543.8" y2="1474.8" stroke="#0000ff" stroke-width="5.5" stroke-linecap="round"/>
<text transform="translate(592.7,1429.4) scale(1,1.035)" x="0" y="0" font-family="&quot;Liberation Serif&quot;, serif" font-size="48.7" fill="#000000" text-anchor="start">Applied voltage</text>
<text transform="translate(591.6,1489.7) scale(1,1.035)" x="0" y="0" font-family="&quot;Liberation Serif&quot;, serif" font-size="48.7" fill="#0000ff" text-anchor="start">REB current</text>
<text x="1184.2" y="835.7" font-family="&quot;Liberation Sans&quot;, sans-serif" font-size="49.5" font-weight="bold" fill="#000000" text-anchor="start" >b)</text>
</svg>
</body></html>
